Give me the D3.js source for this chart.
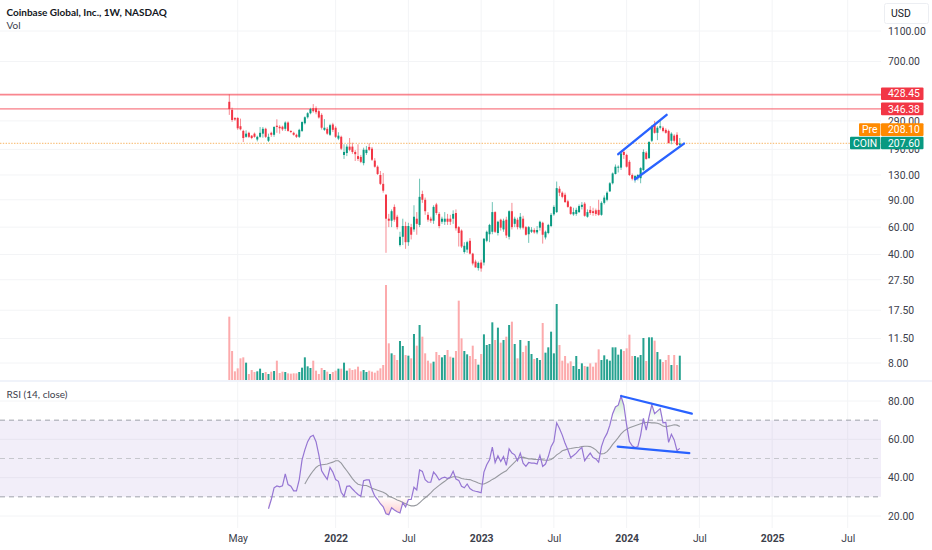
<!DOCTYPE html>
<html>
<head>
<meta charset="utf-8">
<script src="https://d3js.org/d3.v7.min.js"></script>
<style>
  body { margin: 0; background: #fff; }
  svg { display: block; }
  text { font-family: Roboto, sans-serif; }
  .axis path, .axis line { display: none; }
  .axis text { font-family: Roboto, sans-serif; font-size: 10.4px; fill: #3c404b; }
</style>
</head>
<body>
<div id="my_chart"></div>
<script>

// weekly candles, oldest first
var opens = [385,341,303,303,268,250,229,243,233,240,220,229,240,258,216,243,236,270,266,266,258,283,250,243,236,229,250,280,306,325,350,350,335,317,254,258,236,275,262,223,229,175,180,198,198,183,172,170,155,180,197,192,161,147,130,114,97,68,66,81,70,46,52,61,48,60,58,68,62,98,90,72,68,66,84,73,65,65,68,68,68,74,60,57,41.5,43,49,40.5,36,32.7,35.5,35.5,49,54,56,75,55,67,58,67,52,76,63,67,59.5,68,60,54,56,57.5,55.5,59.5,64,51.5,55,61,72.5,75,106,100,97,88,81,72.5,73,75,81,85,70,77.5,76,77,77.5,72,86,90,102,115,132,145,145,183,175,158,130,121,124,124,140,181,167,216,272,243,262,262,254,250,216,233,236,203];
var highs = [430,353,306,306,300,254,252,247,235,244,233,265,265,262,240,247,268,297,272,270,288,288,252,247,240,258,288,310,330,352,372,360,342,325,298,265,278,282,268,245,233,205,205,225,210,188,205,175,195,200,208,197,167,150,138,134,98,73,78,84,72,56,68,65,64,63,83,75,123,103,93,75,70,83,86,75,70,75,73,72,77,78,61,58,48,49,51,41,37,36,37,51,57,63,87,76,66,68,68,70,77,86,70,69,74,71,61,61,60,59,61,66,65,57,63,74,83,118,110,102,100,90,82,80,80,84,87,87,78,82,80,79,90,88,96,102,117,135,152,150,183,190,178,162,133,130,132,146,190,185,215,272,290,268,292,268,260,255,245,238,245,225];
var lows = [317,286,290,254,252,212,226,225,221,226,214,226,226,225,212,229,229,243,240,250,250,247,242,233,225,225,246,275,300,320,328,320,300,255,250,236,232,246,225,218,188,165,172,185,178,160,160,155,150,175,186,160,145,130,112,100,41,60,60,65,58,45,46,43.5,45.5,50,56,53.6,60,86,72,65,64,63,72,59,63,62,62,62,63,57,45,44,40.5,41,40,34,33,31.5,31,34,48,48,54,55,53,57,56,51,50,58,60,58,58,58,53,47.5,55,54.5,54,57,47,50,54,60,71,74,95,92,86,80,72,71,71,74,78,70,69,72,71,71,71,71,84,88,101,113,131,135,140,165,145,128,120,116,120,115,138,163,165,212,240,218,255,245,240,207,205,210,200,200];
var closes = [346,294,296,260,256,225,240,229,225,229,229,243,258,229,229,236,265,265,260,256,283,250,246,236,229,254,285,306,325,346,335,330,305,262,262,240,272,254,229,233,192,183,198,189,183,177,165,158,189,189,189,163,147,132,114,103,68,66,76,67,60,52,61,48,61,53.6,70,63,94,90,76,67,66,81,74,61,68,68,65,65,73,59,55,45,45.5,48,40.5,35,33,35.3,32.5,50.5,56,62,75,56,65,59.5,66,53,76,60,68,60,70,59.5,53.6,60,57.7,55.5,57.5,65,53.6,56,62,72,81,107,100,94,87,81,73,75,77.5,82,83.5,71,75,74,74,73,72,86,93,100,115,133,147,147,179,175,147,130,123,128,130,144,183,165,212,265,243,262,268,250,243,209,240,216,203,207.6];
var volumes = [38,17.4,5.2,7,13,13.6,10.4,3.6,6,4.8,5.2,6.8,4.2,4.8,3.6,5,5.4,11.6,4.2,5,4.8,4,3.8,4,4,4.8,7.4,13.6,8.2,7.2,11.6,5.6,3.6,7.2,6,5,3.6,4.8,5.6,6.8,6.8,10.4,5.6,7,6,6.4,8,5.2,6,4.8,5.6,5,4.4,5.6,7,9,57,22,16,15,12,23.4,20.4,15,14.6,13,27.6,20.6,33,26,16,11.6,10,11,16.8,15,13.6,15,18,14,13.4,17.4,47.6,25,17.4,15.4,14.4,20.6,12.6,9.2,15.6,27.4,21,21.6,34.6,24,31.4,22.4,24,26,33,35,21.6,13,24,16.8,20.6,23.4,15.6,12.6,13.2,12,34.2,16.4,19.6,29,16,45.6,21,11.6,14.4,10,11.2,8.4,14.4,6.6,10,8.4,8,10,8,10.4,18.4,12,14.8,12.4,11.6,19.6,19.6,15.2,18.4,17.4,19,27.2,14.4,14.4,13.6,15,25.2,11.4,25.6,25.6,23.6,16.8,12.4,10.8,12,15,9,15,9,14.6];

// RSI starts at bar 14, its moving average at bar 27
var rsiStart = 14;
var rsiValues = [23.8,28.6,34.7,35.7,35.2,35.7,42,36.4,35.5,33.1,33.1,39,49.3,54.5,58.8,61.4,62.1,58.8,51.9,43.6,41.2,39.1,45.3,42.9,39,38.1,32.4,30.3,35.5,35.7,34.1,32.6,31.2,30.3,38.4,38.8,38.8,33.8,30.3,28.6,26.4,24.8,21.2,20.7,24.3,23.1,22.2,21.6,26.9,24.7,28.6,28.6,35,33.6,44,43.3,39,37.6,37.6,42.9,41.2,38.8,39.8,40.3,39.5,40.3,43.3,39.3,38.6,35.5,34.7,36.7,34.3,33.3,32.9,32.6,32.1,42.9,46.7,49.3,55.9,47.9,51.4,48.4,51,46.4,55,52.8,51.9,48.8,52.8,47.6,45.9,47.9,47.6,47.6,47.1,51.6,45.9,47.1,51,56.2,58.8,68.6,65.7,62.2,57.9,54.5,50.5,51.6,52.8,54.5,55.7,48.8,51,52.8,50.5,49.8,48.1,56.2,60.5,63.1,67.4,73.4,76.9,77.8,82.6,77.8,67.4,58.8,56.6,55.7,56.2,62.2,70.9,64.8,71.7,78.1,73.4,74.7,76,68.6,68.8,58.4,62.6,59.7,54.1,55.3];
var maStart = 27;
var rsiMa = [36.7,39.3,41.6,43.6,45.3,46.4,46.7,46.9,47.1,47.6,48.1,48.8,48.8,47.6,45.5,43.6,41.6,39.5,37.8,36.6,36.2,36,35.9,35.2,34.5,34,33.4,32.9,32.4,31.6,30.3,29.8,29.1,28.4,27.8,27.1,26.4,25.7,25.3,25.3,25.7,26.9,28.3,29.5,30.7,32.1,33.6,34.8,36,37.1,38.1,39.3,40,40.5,40.5,40.2,39.6,39.3,39.1,39,38.4,37.9,37.2,36.7,36.7,37.4,38.1,39.1,39.8,40.9,41.9,42.8,43.6,45.3,46.7,48.1,49.7,50.5,50.7,50.3,49.8,49.8,49.5,49.5,49.5,49.3,49.1,49.1,49.5,50.5,51.9,52.8,54,54.5,55,55.2,55.5,55.7,55.9,56.2,56.4,56.4,56.2,55.5,54.5,52.9,52.4,52.6,53.6,55.3,57.4,59.1,60.9,62.8,64.3,65.3,66,66.6,67.1,67.6,68.1,68.6,68.8,68.8,68.6,68.6,68.4,67.9,66.9,66.6,66.9,67.2,67.6,67.4,66.7];

// axes
var priceTicks = [1100,700,290,190,130,90,60,40,27.5,17.5,11.5,8];
var rsiTicks = [80,60,40,20];
var rsiBands = [70,50,30];
var timeTicks = [3,38,64,90,116,142,168,194,221];
var timeLabels = ["May","2022","Jul","2023","Jul","2024","Jul","2025","Jul"];

// drawings on the chart
var levels = [428.45,346.38];
var lastPrice = 207.6;
var prePrice = 208.1;
var channelLines = [
  [[139,177],[156.3,317]],
  [[145,122],[162.5,207]]
];
var rsiLines = [
  [[140,82.6],[165.3,73.4]],
  [[138.8,56.2],[164.4,52.8]]
];

var width = 932, height = 550, plotRight = 881, gridBottom = 528;
var upColor = "#089981", downColor = "#f23645", gridColor = "#f3f4f6";

var svg = d3.select("#my_chart")
  .append("svg")
    .attr("width", width)
    .attr("height", height);

var x = d3.scaleLinear().domain([0, 161]).range([229.3, 679.8]);
var yPrice = d3.scaleLog().domain([8, 1100]).range([363, 31]);
var yVol = d3.scaleLinear().domain([0, 57]).range([380, 285]);
var yRsi = d3.scaleLinear().domain([20, 80]).range([516, 401]);

var defs = svg.append("defs");

// grid
svg.append("g").selectAll("line").data(timeTicks).join("line")
  .attr("x1", function(d) { return x(d); })
  .attr("x2", function(d) { return x(d); })
  .attr("y1", 0).attr("y2", gridBottom)
  .attr("stroke", gridColor);
svg.append("g").selectAll("line").data(priceTicks).join("line")
  .attr("x1", 0).attr("x2", plotRight)
  .attr("y1", function(d) { return yPrice(d); })
  .attr("y2", function(d) { return yPrice(d); })
  .attr("stroke", gridColor);
svg.append("g").selectAll("line").data(rsiTicks).join("line")
  .attr("x1", 0).attr("x2", plotRight)
  .attr("y1", function(d) { return yRsi(d); })
  .attr("y2", function(d) { return yRsi(d); })
  .attr("stroke", gridColor);

// pane divider
svg.append("rect")
  .attr("x", 0).attr("y", 380).attr("width", width).attr("height", 2)
  .attr("fill", "#f0f3fa");

// volume
svg.append("g").selectAll("rect").data(volumes).join("rect")
  .attr("x", function(d, i) { return x(i) - 1; })
  .attr("y", function(d) { return yVol(d); })
  .attr("width", 2)
  .attr("height", function(d) { return yVol(0) - yVol(d); })
  .attr("fill", function(d, i) { return closes[i] >= opens[i] ? "#26a290" : "#fcaaac"; });

// level lines
svg.append("line")
  .attr("x1", 0).attr("x2", plotRight)
  .attr("y1", yPrice(lastPrice)).attr("y2", yPrice(lastPrice))
  .attr("stroke", "#f9c483").attr("stroke-width", 1.2)
  .attr("stroke-dasharray", "1.4,1.4");
svg.append("g").selectAll("line").data(levels).join("line")
  .attr("x1", 0).attr("x2", plotRight)
  .attr("y1", function(d) { return yPrice(d); })
  .attr("y2", function(d) { return yPrice(d); })
  .attr("stroke", "#f7525f")
  .attr("stroke-opacity", function(d, i) { return i == 0 ? 0.7 : 0.95; })
  .attr("stroke-width", function(d, i) { return i == 0 ? 1.6 : 1; });

// candles
var candles = svg.append("g");
candles.selectAll("line").data(closes).join("line")
  .attr("x1", function(d, i) { return x(i); })
  .attr("x2", function(d, i) { return x(i); })
  .attr("y1", function(d, i) { return yPrice(highs[i]); })
  .attr("y2", function(d, i) { return yPrice(lows[i]); })
  .attr("stroke", function(d, i) { return closes[i] >= opens[i] ? upColor : downColor; })
  .attr("stroke-opacity", 0.65)
  .attr("stroke-width", 0.9);
candles.selectAll("rect").data(closes).join("rect")
  .attr("x", function(d, i) { return x(i) - 1; })
  .attr("y", function(d, i) { return yPrice(Math.max(opens[i], closes[i])); })
  .attr("width", 2)
  .attr("height", function(d, i) { return Math.max(1, Math.abs(yPrice(opens[i]) - yPrice(closes[i]))); })
  .attr("fill", function(d, i) { return closes[i] >= opens[i] ? upColor : downColor; });

// channel drawn on the price
var priceLine = d3.line()
  .x(function(d) { return x(d[0]); })
  .y(function(d) { return yPrice(d[1]); });
svg.append("g").selectAll("path").data(channelLines).join("path")
  .attr("d", priceLine)
  .attr("fill", "none").attr("stroke", "#2962ff")
  .attr("stroke-width", 2.4).attr("stroke-linecap", "round");

// RSI band
svg.append("rect")
  .attr("x", 0).attr("width", plotRight)
  .attr("y", yRsi(70)).attr("height", yRsi(30) - yRsi(70))
  .attr("fill", "#7e57c2").attr("fill-opacity", 0.1);
svg.append("g").selectAll("line").data(rsiBands).join("line")
  .attr("x1", 0).attr("x2", plotRight)
  .attr("y1", function(d) { return yRsi(d); })
  .attr("y2", function(d) { return yRsi(d); })
  .attr("stroke", function(d) { return d == 50 ? "#c6c7cd" : "#9fa2aa"; })
  .attr("stroke-dasharray", "5,4");

// RSI overbought and oversold fills
var topGrad = defs.append("linearGradient").attr("id", "overFill")
  .attr("gradientUnits", "userSpaceOnUse")
  .attr("x1", 0).attr("x2", 0).attr("y1", yRsi(83)).attr("y2", yRsi(70));
topGrad.append("stop").attr("offset", 0).attr("stop-color", "#4caf50").attr("stop-opacity", 0.32);
topGrad.append("stop").attr("offset", 1).attr("stop-color", "#4caf50").attr("stop-opacity", 0);
var lowGrad = defs.append("linearGradient").attr("id", "underFill")
  .attr("gradientUnits", "userSpaceOnUse")
  .attr("x1", 0).attr("x2", 0).attr("y1", yRsi(30)).attr("y2", yRsi(20));
lowGrad.append("stop").attr("offset", 0).attr("stop-color", "#ff5252").attr("stop-opacity", 0);
lowGrad.append("stop").attr("offset", 1).attr("stop-color", "#ff5252").attr("stop-opacity", 0.32);

defs.append("clipPath").attr("id", "overClip").append("rect")
  .attr("x", 0).attr("width", plotRight).attr("y", 0).attr("height", yRsi(70));
defs.append("clipPath").attr("id", "underClip").append("rect")
  .attr("x", 0).attr("width", plotRight).attr("y", yRsi(30)).attr("height", gridBottom - yRsi(30));

function rsiArea(base) {
  return d3.area()
    .x(function(d, i) { return x(i + rsiStart); })
    .y0(yRsi(base))
    .y1(function(d) { return yRsi(d); });
}
svg.append("path").datum(rsiValues)
  .attr("d", rsiArea(70)).attr("fill", "url(#overFill)").attr("clip-path", "url(#overClip)");
svg.append("path").datum(rsiValues)
  .attr("d", rsiArea(30)).attr("fill", "url(#underFill)").attr("clip-path", "url(#underClip)");

// RSI lines
svg.append("path").datum(rsiMa)
  .attr("d", d3.line()
    .x(function(d, i) { return x(i + maStart); })
    .y(function(d) { return yRsi(d); }))
  .attr("fill", "none").attr("stroke", "#97999f").attr("stroke-width", 1.1);
svg.append("path").datum(rsiValues)
  .attr("d", d3.line()
    .x(function(d, i) { return x(i + rsiStart); })
    .y(function(d) { return yRsi(d); }))
  .attr("fill", "none").attr("stroke", "#9575d3").attr("stroke-width", 1.2);

var rsiTrend = d3.line()
  .x(function(d) { return x(d[0]); })
  .y(function(d) { return yRsi(d[1]); });
svg.append("g").selectAll("path").data(rsiLines).join("path")
  .attr("d", rsiTrend)
  .attr("fill", "none").attr("stroke", "#2962ff")
  .attr("stroke-width", 2.2).attr("stroke-linecap", "round");

// axes
svg.append("g").attr("class", "axis")
  .attr("transform", "translate(881,0)")
  .call(d3.axisRight(yPrice).tickValues(priceTicks).tickFormat(d3.format(".2f")).tickSize(0).tickPadding(7));
svg.append("g").attr("class", "axis")
  .attr("transform", "translate(881,0)")
  .call(d3.axisRight(yRsi).tickValues(rsiTicks).tickFormat(d3.format(".2f")).tickSize(0).tickPadding(7));
var timeAxis = svg.append("g").attr("class", "axis")
  .attr("transform", "translate(0,533)")
  .call(d3.axisBottom(x).tickValues(timeTicks)
    .tickFormat(function(d, i) { return timeLabels[i]; }).tickSize(0).tickPadding(2));
timeAxis.selectAll("text")
  .style("font-weight", function(d, i) { return /^\d+$/.test(timeLabels[i]) ? "700" : "400"; });

// price labels on the scale
function priceLabel(value, yPos, fill) {
  svg.append("rect")
    .attr("x", 881).attr("y", yPos - 6.3).attr("width", 42.5).attr("height", 12.6)
    .attr("rx", 1).attr("fill", fill);
  svg.append("text")
    .attr("x", 888).attr("y", yPos).attr("dy", "0.35em")
    .attr("font-size", 10.4).attr("fill", "#fff")
    .text(value.toFixed(2));
}
function tagLabel(label, xLeft, yPos, fill) {
  svg.append("rect")
    .attr("x", xLeft).attr("y", yPos - 6.3).attr("width", 880.4 - xLeft).attr("height", 12.6)
    .attr("rx", 1).attr("fill", fill);
  svg.append("text")
    .attr("x", (xLeft + 880.4) / 2).attr("y", yPos).attr("dy", "0.35em")
    .attr("text-anchor", "middle").attr("font-size", 10.4).attr("fill", "#fff")
    .text(label);
}
priceLabel(levels[0], yPrice(levels[0]) - 0.8, "#f23645");
priceLabel(levels[1], yPrice(levels[1]), "#f23645");
tagLabel("Pre", 859, 129.6, "#ff8a00");
priceLabel(prePrice, 129.6, "#ff8a00");
tagLabel("COIN", 850, 143, upColor);
priceLabel(lastPrice, 143, upColor);

// currency button
svg.append("rect")
  .attr("x", 884.5).attr("y", 3.5).attr("width", 44).attr("height", 20)
  .attr("rx", 2).attr("fill", "#fff").attr("stroke", "#eceef2");
svg.append("text")
  .attr("x", 891).attr("y", 17).attr("font-size", 10.4).attr("fill", "#131722")
  .text("USD");

// legends
svg.append("text")
  .attr("x", 6.5).attr("y", 16)
  .style("font-family", "Lato, sans-serif")
  .attr("font-size", 10).attr("font-weight", 700).attr("fill", "#131722")
  .text("Coinbase Global, Inc., 1W, NASDAQ");
svg.append("text")
  .attr("x", 6.5).attr("y", 29)
  .style("font-family", "Lato, sans-serif")
  .attr("font-size", 10).attr("fill", "#3c404b")
  .text("Vol");
svg.append("text")
  .attr("x", 6.5).attr("y", 398)
  .style("font-family", "Lato, sans-serif")
  .attr("font-size", 10).attr("fill", "#3c404b")
  .text("RSI (14, close)");

</script>
</body>
</html>
